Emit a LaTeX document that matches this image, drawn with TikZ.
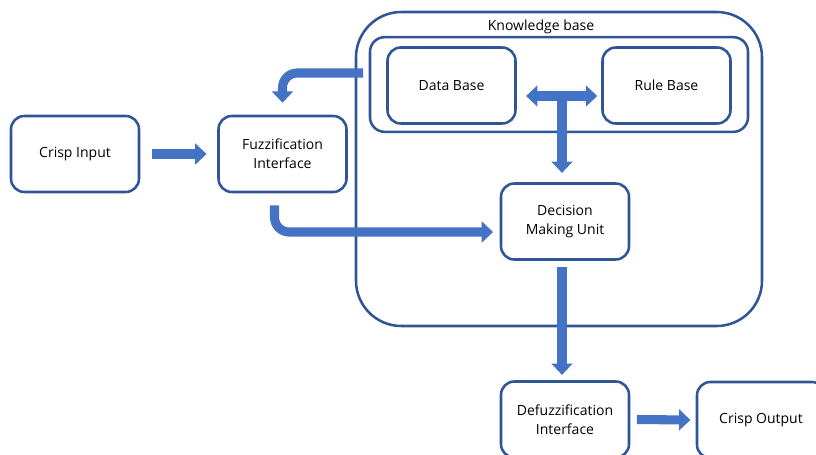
\documentclass[tikz,border=0pt]{standalone}
\usepackage{fontspec}
\setmainfont{Open Sans}
\usetikzlibrary{positioning,arrows.meta,calc}
\definecolor{boxline}{HTML}{2F5597}
\definecolor{flow}{HTML}{4472C4}

\begin{document}
\begin{tikzpicture}[x=0.75pt,y=-0.75pt,
  block/.style={draw=boxline,line width=1.9pt,rounded corners=10pt,
    minimum width=96pt,minimum height=57pt,align=center,
    font=\fontsize{10.5}{14.2}\selectfont},
  frame/.style={draw=boxline,line width=1.9pt},
  flowarrow/.style={draw=flow,line width=6.8pt,rounded corners=11pt,
    -{Triangle[width=15.5pt,length=8.5pt]}},
  bothways/.style={flowarrow,{Triangle[width=15.5pt,length=8.5pt]}-{Triangle[width=15.5pt,length=8.5pt]}}]
  \useasboundingbox (0,0) rectangle (816,454);
  % knowledge base frames
  \node[frame,rounded corners=34pt,minimum width=304.5pt,minimum height=235.5pt] (kb) at (559,169) {};
  \node[frame,rounded corners=11pt,minimum width=283.5pt,minimum height=71pt] (kbin) at (559,84.5) {};
  \node[font=\fontsize{10.5}{12}\selectfont] (kblabel) at (541,27) {Knowledge base};
  % blocks
  \node[block] (input) at (75,154) {Crisp Input};
  \node[block] (fuzz) at (282.5,154) {Fuzzification\\Interface};
  \node[block] (data) at (451.5,85.5) {Data Base};
  \node[block] (rule) at (666.5,85.5) {Rule Base};
  \node[block] (dmu) at (565,221.5) {Decision\\Making Unit};
  \node[block] (defuzz) at (565,419.5) {Defuzzification\\Interface};
  \node[block] (output) at (761,420) {Crisp Output};
  % connectors
  \coordinate (kbout) at (363,73);
  \coordinate (tee) at (562,96);
  \draw[flowarrow] ([xshift=9pt]input.east) -- ([xshift=-8pt]fuzz.west);
  \draw[flowarrow] (kbout) -| ([yshift=9pt]fuzz.north);
  \draw[flowarrow] ([xshift=-6pt,yshift=-9pt]fuzz.south) |- ([xshift=-5pt]dmu.west |- 0,232);
  \draw[bothways] ([xshift=7pt]data.east |- tee) -- ([xshift=-3pt]rule.west |- tee);
  \draw[flowarrow] (tee) -- ([yshift=7pt]tee |- dmu.north);
  \draw[flowarrow] ([yshift=-5pt]dmu.south -| tee) -- ([yshift=4pt]defuzz.north -| tee);
  \draw[flowarrow] ([xshift=5pt]defuzz.east) -- ([xshift=-4pt]output.west);
\end{tikzpicture}
\end{document}
